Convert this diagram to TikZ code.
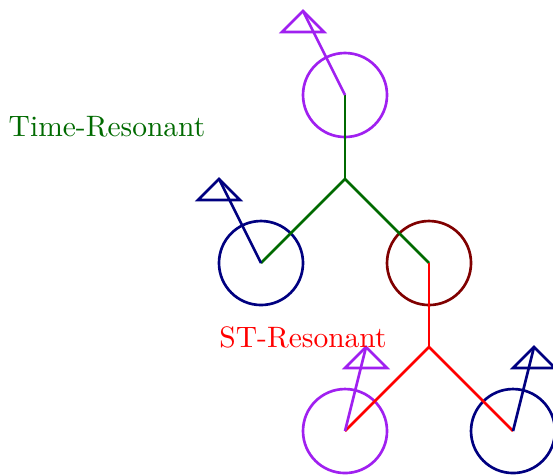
\documentclass[tikz,border=0pt]{standalone}
\usepackage{tikz}
\usetikzlibrary{positioning, calc}
\usepackage{xcolor}
\definecolor{spinpurple}{HTML}{A020F0}
\definecolor{spinblue}{HTML}{000080}
\definecolor{spinred}{HTML}{800000}
\definecolor{timegreen}{HTML}{006A00}
\definecolor{stred}{HTML}{FF0000}
\tikzset{
  site/.style={
    circle, draw=#1, line width=0.9pt, minimum size=1cm, inner sep=0pt
  },
  bond/.style={line width=0.9pt, #1},
  spin/.style={line width=0.9pt, draw=#1, line join=miter},
  lbl/.style={font=\normalsize, text=#1}
}

\begin{document}
\begin{tikzpicture}
        \useasboundingbox (-3.107,-2.524) rectangle (3.476,3.131);
        % sites
        \node[site=spinpurple] (top) at (1,2) {};
        \node[site=spinblue] (left) at (0,0) {};
        \node[site=spinred] (mid) at (2,0) {};
        \node[site=spinpurple] (botl) at (1,-2) {};
        \node[site=spinblue] (botr) at (3,-2) {};
        \coordinate (tj) at (1,1);
        \coordinate (sj) at (2,-1);
        % time-resonant bonds
        \foreach \t in {top,left,mid}{%
          \draw[bond=timegreen] (tj) -- (\t.center);}
        % st-resonant bonds
        \foreach \t in {mid,botl,botr}{%
          \draw[bond=stred] (sj) -- (\t.center);}
        % spins
        \coordinate (stop) at ($(top.center)+(-0.5,1)$);
        \coordinate (sleft) at ($(left.center)+(-0.5,1)$);
        \coordinate (sbotl) at ($(botl.center)+(0.25,1)$);
        \coordinate (sbotr) at ($(botr.center)+(0.25,1)$);
        \foreach \s/\c/\col in {top/stop/spinpurple,left/sleft/spinblue,
                                botl/sbotl/spinpurple,botr/sbotr/spinblue}{%
          \draw[spin=\col] (\s.center) -- (\c);
          \draw[spin=\col] (\c) -- ++(-0.25,-0.25) -- ++(0.5,0) -- cycle;}
        % labels
        \node[lbl=timegreen] (tlab) at (-1.833,1.62) {Time-Resonant};
        \node[lbl=stred] (slab) at (0.5,-0.88) {ST-Resonant};
      \end{tikzpicture}
\end{document}
